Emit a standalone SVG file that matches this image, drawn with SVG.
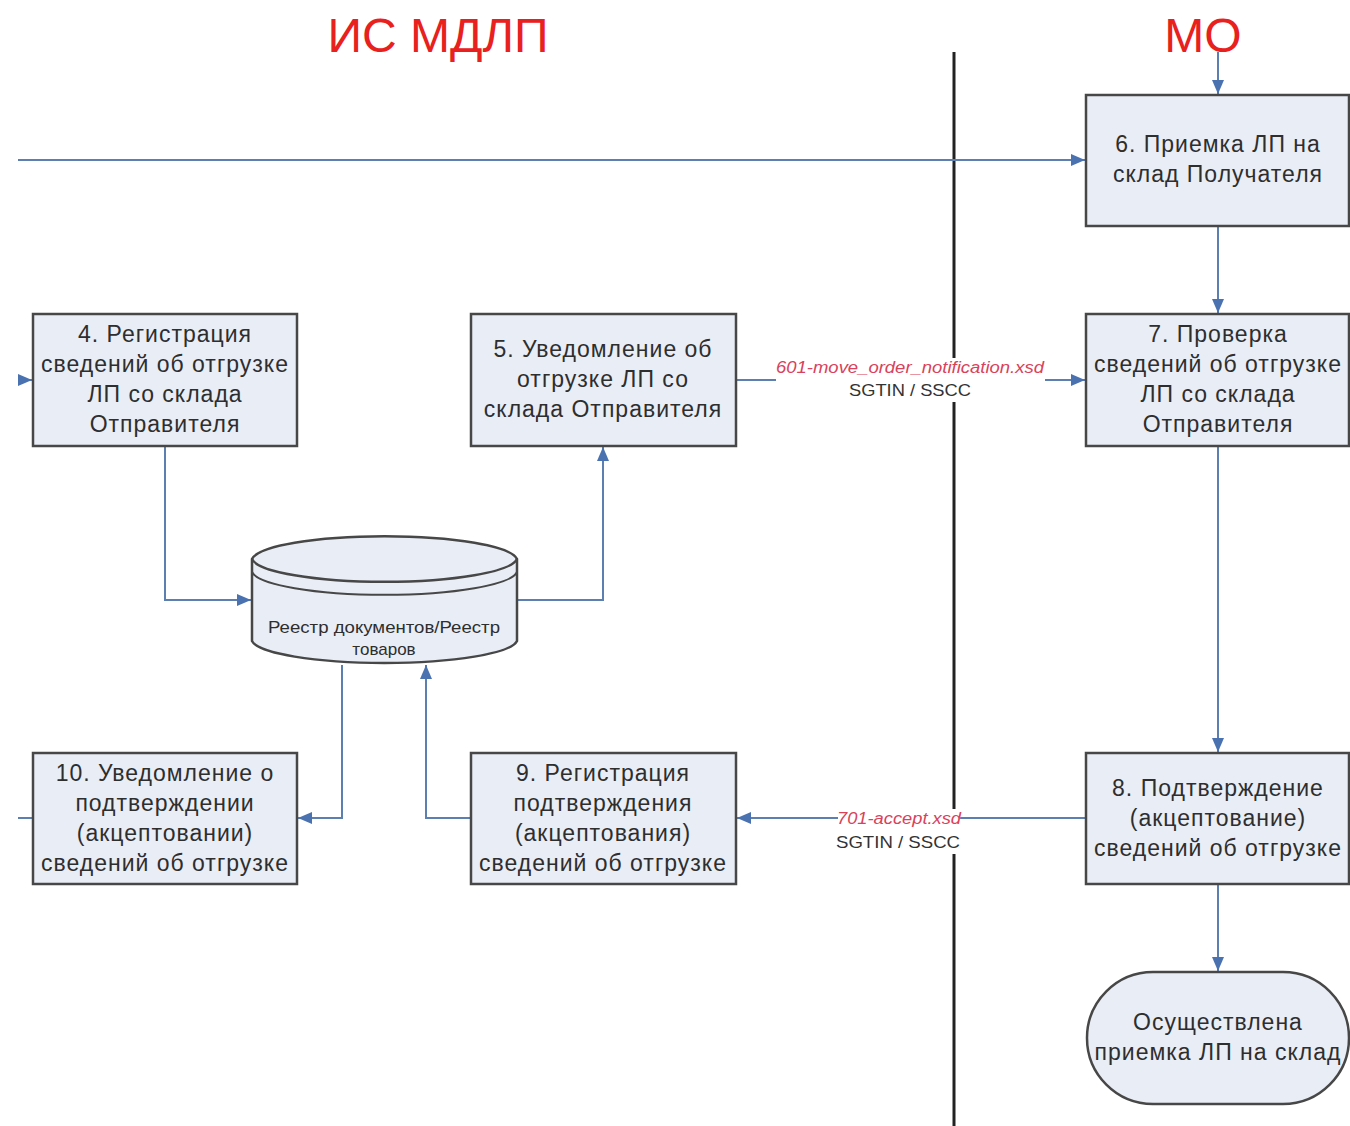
<svg xmlns="http://www.w3.org/2000/svg" width="1350" height="1126" viewBox="0 0 1350 1126">
<defs>
<style>
.box{fill:#e9edf6;stroke:#474747;stroke-width:2.5}
.t{font-family:"Liberation Sans",Arial,sans-serif;font-size:23px;letter-spacing:1px;fill:#2e2e2e;text-anchor:middle}
.c{fill:none;stroke:#5a7fb0;stroke-width:2}
.title{font-family:"Liberation Sans",Arial,sans-serif;font-size:48px;fill:#e8201e;text-anchor:middle}
.lbl{font-family:"Liberation Sans",Arial,sans-serif;font-size:16px;fill:#d9425a;font-style:italic;text-anchor:middle}
.lb2{font-family:"Liberation Sans",Arial,sans-serif;font-size:17px;fill:#333;text-anchor:middle}
.dbt{font-family:"Liberation Sans",Arial,sans-serif;font-size:17px;fill:#2e2e2e;text-anchor:middle}
</style>
<marker id="ah" viewBox="0 0 14 12" refX="14" refY="6" markerWidth="14" markerHeight="12" markerUnits="userSpaceOnUse" orient="auto">
<path d="M0,0 L14,6 L0,12 z" fill="#4a72b0"/>
</marker>
</defs>
<rect width="1350" height="1126" fill="#fff"/>
<text class="title" x="438" y="52">ИС МДЛП</text>
<text class="title" x="1203" y="52">МО</text>
<line x1="954" y1="52" x2="954" y2="1126" stroke="#222" stroke-width="3"/>
<rect x="930" y="358" width="50" height="44" fill="#fff"/>
<rect x="930" y="809" width="50" height="45" fill="#fff"/>

<g id="connectors">
<path class="c" d="M1218,52 V94" marker-end="url(#ah)"/>
<path class="c" d="M18,160 H1085" marker-end="url(#ah)"/>
<path class="c" d="M1218,226 V313" marker-end="url(#ah)"/>
<path class="c" d="M736,380 H776"/>
<path class="c" d="M1045,380 H1085" marker-end="url(#ah)"/>
<path class="c" d="M18,380 H32" marker-end="url(#ah)"/>
<path class="c" d="M165,446 V600 H251" marker-end="url(#ah)"/>
<path class="c" d="M517,600 H603 V447" marker-end="url(#ah)"/>
<path class="c" d="M1218,446 V752" marker-end="url(#ah)"/>
<path class="c" d="M1086,818 H960"/>
<path class="c" d="M838,818 H737" marker-end="url(#ah)"/>
<path class="c" d="M471,818 H426 V665" marker-end="url(#ah)"/>
<path class="c" d="M342,665 V818 H298" marker-end="url(#ah)"/>
<path class="c" d="M18,818 H33"/>
<path class="c" d="M1218,884 V971" marker-end="url(#ah)"/>
<text class="lbl" x="910" y="373" textLength="268" lengthAdjust="spacingAndGlyphs">601-move_order_notification.xsd</text>
<text class="lb2" x="910" y="396" textLength="122" lengthAdjust="spacingAndGlyphs">SGTIN / SSCC</text>
<text class="lbl" x="899" y="824" textLength="124" lengthAdjust="spacingAndGlyphs">701-accept.xsd</text>
<text class="lb2" x="898" y="848" textLength="124" lengthAdjust="spacingAndGlyphs">SGTIN / SSCC</text>
</g>

<g id="n6">
<rect class="box" x="1086" y="95" width="263" height="131"/>
<text class="t" x="1218" y="152">6. Приемка ЛП на</text>
<text class="t" x="1218" y="182">склад Получателя</text>
</g>
<g id="n7">
<rect class="box" x="1086" y="314" width="263" height="132"/>
<text class="t" x="1218" y="342">7. Проверка</text>
<text class="t" x="1218" y="372">сведений об отгрузке</text>
<text class="t" x="1218" y="402">ЛП со склада</text>
<text class="t" x="1218" y="432">Отправителя</text>
</g>
<g id="n8">
<rect class="box" x="1086" y="753" width="263" height="131"/>
<text class="t" x="1218" y="796">8. Подтверждение</text>
<text class="t" x="1218" y="826">(акцептование)</text>
<text class="t" x="1218" y="856">сведений об отгрузке</text>
</g>
<g id="end">
<rect class="box" x="1087" y="972" width="262" height="132" rx="66" ry="66"/>
<text class="t" x="1218" y="1030">Осуществлена</text>
<text class="t" x="1218" y="1060">приемка ЛП на склад</text>
</g>
<g id="n4">
<rect class="box" x="33" y="314" width="264" height="132"/>
<text class="t" x="165" y="342">4. Регистрация</text>
<text class="t" x="165" y="372">сведений об отгрузке</text>
<text class="t" x="165" y="402">ЛП со склада</text>
<text class="t" x="165" y="432">Отправителя</text>
</g>
<g id="n5">
<rect class="box" x="471" y="314" width="265" height="132"/>
<text class="t" x="603" y="357">5. Уведомление об</text>
<text class="t" x="603" y="387">отгрузке ЛП со</text>
<text class="t" x="603" y="417">склада Отправителя</text>
</g>
<g id="n10">
<rect class="box" x="33" y="753" width="264" height="131"/>
<text class="t" x="165" y="781">10. Уведомление о</text>
<text class="t" x="165" y="811">подтверждении</text>
<text class="t" x="165" y="841">(акцептовании)</text>
<text class="t" x="165" y="871">сведений об отгрузке</text>
</g>
<g id="n9">
<rect class="box" x="471" y="753" width="265" height="131"/>
<text class="t" x="603" y="781">9. Регистрация</text>
<text class="t" x="603" y="811">подтверждения</text>
<text class="t" x="603" y="841">(акцептования)</text>
<text class="t" x="603" y="871">сведений об отгрузке</text>
</g>
<g id="db">
<path class="box" d="M252,559 V641 A133,24 0 0 0 517,641 V559 A133,25 0 0 0 252,559 Z"/>
<path d="M252,559 A133,25 0 0 0 517,559" fill="none" stroke="#474747" stroke-width="2.5"/>
<path d="M252,572 A133,25 0 0 0 517,572" fill="none" stroke="#474747" stroke-width="2"/>
<text class="dbt" x="384" y="633" textLength="232" lengthAdjust="spacingAndGlyphs">Реестр документов/Реестр</text>
<text class="dbt" x="384" y="655">товаров</text>
</g>
</svg>
